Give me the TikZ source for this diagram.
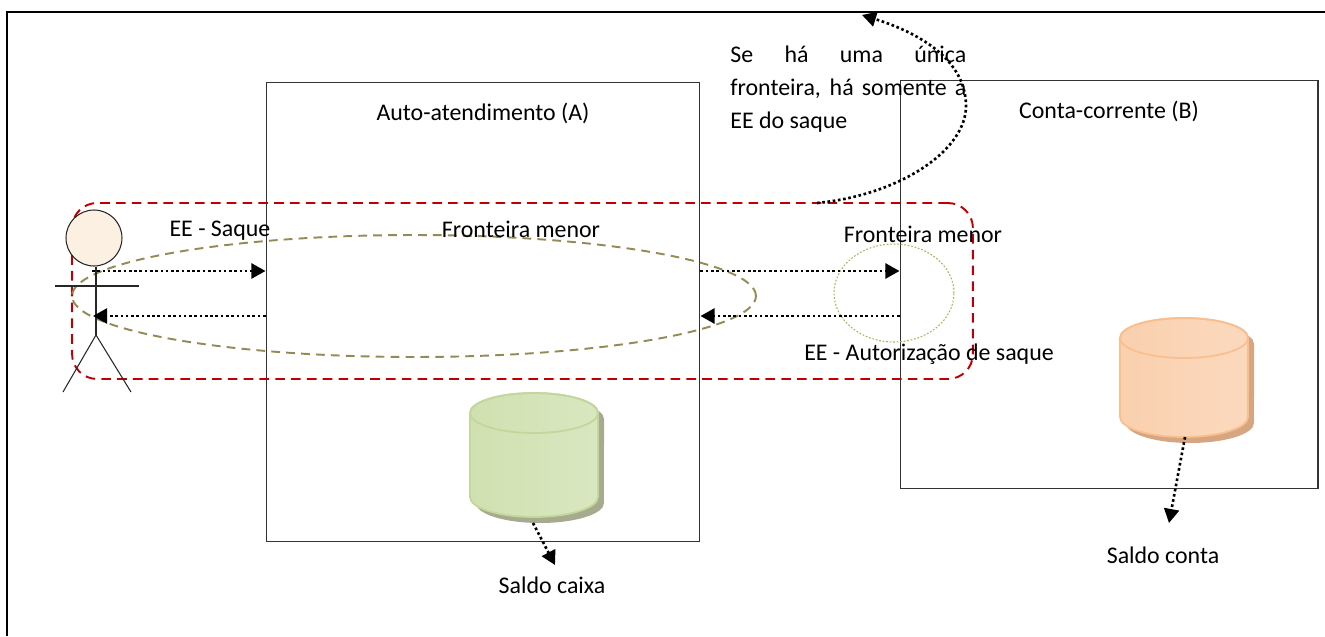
\documentclass[tikz,border=0pt]{standalone}
\usepackage{fontspec}
\setmainfont{Carlito}
\usepackage{xcolor}
\usepackage{tikz}
\usetikzlibrary{positioning, arrows.meta, calc, shapes.geometric}

\definecolor{boundred}{HTML}{C00000}
\definecolor{boundolive}{HTML}{948A54}
\definecolor{boundgreen}{HTML}{9BBB59}
\definecolor{actorskin}{HTML}{FBF0E2}
\definecolor{greenA}{HTML}{D0E1B0}
\definecolor{greenB}{HTML}{EEF4E4}
\definecolor{greenC}{HTML}{D9E7C0}
\definecolor{greenedge}{HTML}{C3D69B}
\definecolor{greenshadow}{HTML}{A6AA8E}
\definecolor{orangeA}{HTML}{FAD0AE}
\definecolor{orangeB}{HTML}{FDEBDD}
\definecolor{orangeC}{HTML}{FBD9BE}
\definecolor{orangeedge}{HTML}{F9BF8F}
\definecolor{orangeshadow}{HTML}{D5A681}

\begin{document}
\begin{tikzpicture}[
    x=0.02cm, y=-0.02cm,
    every node/.style={font=\fontsize{13.6}{16}\selectfont},
    boxnode/.style={rectangle, draw=black!80, line width=0.6pt},
    flowarrow/.style={line width=1.5pt, dash pattern=on 1.5pt off 1.5pt, -{Triangle[length=8pt, width=8.5pt]}},
    bigborder/.style={rectangle, draw=boundred, line width=1.1pt, dash pattern=on 5.5pt off 3.5pt, rounded corners=0.5cm},
    smallborder/.style={ellipse, draw=boundolive, line width=1.1pt, dash pattern=on 5pt off 3.5pt},
    tinyborder/.style={ellipse, draw=boundgreen, line width=0.6pt, dash pattern=on 1pt off 1pt},
    stickline/.style={draw=black!85, line width=0.6pt},
]
\useasboundingbox (0,0) rectangle (1325,636);
\draw[line width=1.3pt] (7,636) -- (7,12) -- (1325,12);

\node[boxnode, minimum width=8.68cm, minimum height=9.2cm](boxa) at (483,312){};
\node[boxnode, minimum width=8.36cm, minimum height=8.18cm](boxb) at (1109,284.5){};
\node(titlea)[below = 0.3cm of boxa.north]{Auto-atendimento (A)};
\node(titleb)[below = 0.3cm of boxb.north]{Conta-corrente (B)};

\node[bigborder, minimum width=18.02cm, minimum height=3.52cm](bigbound) at (522.5,291){};
\node[smallborder, minimum width=13.68cm, minimum height=2.44cm](bounda) at (414,296){};
\node[tinyborder, minimum width=2.4cm, minimum height=1.96cm](boundb) at (894,293){};

\foreach \cx/\cy/\h/\fa/\fb/\fc/\edge/\shd in {534/413/84/greenA/greenB/greenC/greenedge/greenshadow, 1184/338/79/orangeA/orangeB/orangeC/orangeedge/orangeshadow}{
  \begin{scope}[shift={(\cx,\cy)}]
    \fill[\shd] (-58,6) -- (-58,\h+6) arc[start angle=180, end angle=360, x radius=1.28cm, y radius=0.4cm] -- (70,6) arc[start angle=0, end angle=180, x radius=1.28cm, y radius=0.4cm] -- cycle;
    \shadedraw[left color=\fa, middle color=\fb, right color=\fc, draw=\edge, line width=1pt] (-64,0) -- (-64,\h) arc[start angle=180, end angle=360, x radius=1.28cm, y radius=0.4cm] -- (64,0) arc[start angle=0, end angle=180, x radius=1.28cm, y radius=0.4cm] -- cycle;
    \draw[\edge, line width=1pt] (0,0) ellipse[x radius=1.28cm, y radius=0.4cm];
  \end{scope}
}

\node[circle, draw=black!85, fill=actorskin, line width=0.6pt, minimum size=1.12cm](head) at (94,238){};
\coordinate (hip) at (96,335);
\draw[stickline] (head.south -| hip) -- (hip);
\draw[stickline] (55,286) -- (139,286);
\draw[stickline] (63,392) -- (hip) -- (131,392);

\coordinate (sendlvl) at (92,271);
\coordinate (backlvl) at (93,316);
\draw[flowarrow] (sendlvl) -- (sendlvl -| boxa.west);
\draw[flowarrow] (backlvl -| boxa.west) -- (backlvl);
\draw[flowarrow] (sendlvl -| boxa.east) -- (sendlvl -| boxb.west);
\draw[flowarrow] (backlvl -| boxb.west) -- (backlvl -| boxa.east);

\node(saque) at (220,231){EE - Saque};
\node(menora) at (521,229){Fronteira menor};
\node(menorb) at (923,234){Fronteira menor};
\node(autoriz) at (929,354){EE - Autorização de saque};

\node[anchor=north west, inner sep=0pt, text width=4.72cm, align=justify, font=\fontsize{13.6}{18.7}\selectfont](note) at (730,46){Se há uma única\linebreak fronteira, há somente a\linebreak EE do saque};
\coordinate (notestart) at (817,203);
\coordinate (noteend) at (862,15);
\draw[flowarrow] (notestart) .. controls (900,195) and (967,150) .. (966,105) .. controls (965,55) and (910,30) .. (noteend);

\node(saldocaixa) at (552,585){Saldo caixa};
\node(saldoconta) at (1163,555){Saldo conta};
\coordinate (caixastart) at (533,523);
\coordinate (caixaend) at (555,565);
\coordinate (contastart) at (1185,437);
\coordinate (contaend) at (1169,523);
\draw[flowarrow] (caixastart) -- (caixaend);
\draw[flowarrow] (contastart) -- (contaend);
\end{tikzpicture}
\end{document}
